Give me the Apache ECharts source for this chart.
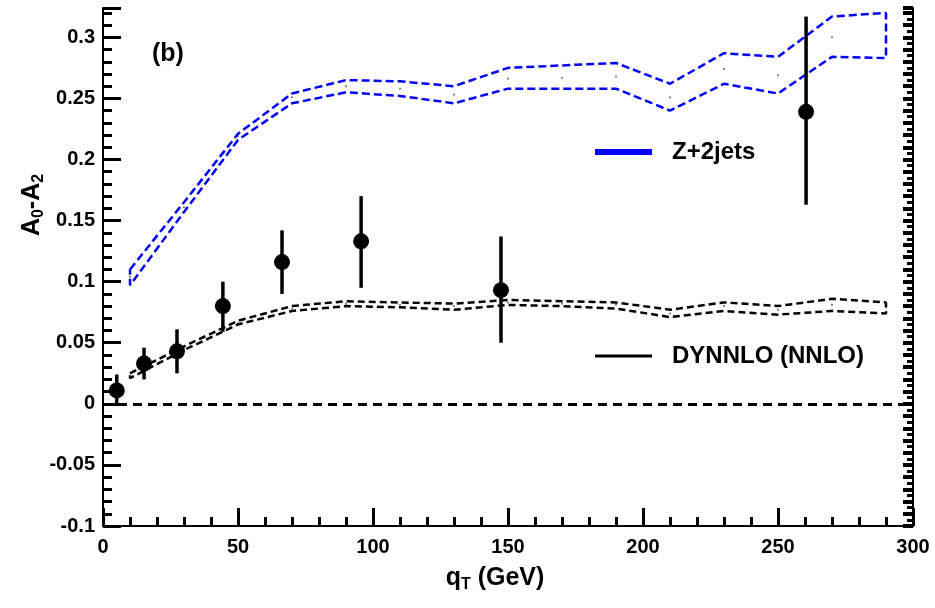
<!DOCTYPE html>
<html>
<head>
<meta charset="utf-8">
<script src="https://cdn.jsdelivr.net/npm/echarts@6/dist/echarts.min.js"></script>
<style>
  html, body { margin: 0; padding: 0; background: #fff; }
  #chart { width: 935px; height: 608px; }
</style>
</head>
<body>
<div id="chart"></div>
<script>
// theory bands, sampled in qT (GeV)
const qtBand = [10, 30, 50, 70, 90, 110, 130, 150, 170, 190, 210, 230, 250, 270, 290];
const zjUp  = [0.110, 0.165, 0.221, 0.254, 0.265, 0.264, 0.260, 0.275, 0.277, 0.279, 0.262, 0.287, 0.284, 0.317, 0.320];
const zjLo  = [0.097, 0.157, 0.216, 0.246, 0.255, 0.252, 0.246, 0.258, 0.258, 0.258, 0.240, 0.262, 0.254, 0.284, 0.283];
const zjMid = [0.104, 0.161, 0.219, 0.251, 0.260, 0.258, 0.253, 0.266, 0.267, 0.268, 0.251, 0.274, 0.269, 0.300, 0.301];
const dyUp  = [0.025, 0.047, 0.068, 0.080, 0.084, 0.083, 0.082, 0.085, 0.084, 0.083, 0.077, 0.083, 0.080, 0.086, 0.083];
const dyLo  = [0.021, 0.044, 0.065, 0.076, 0.080, 0.079, 0.077, 0.081, 0.080, 0.078, 0.071, 0.076, 0.073, 0.076, 0.074];
const dyMid = [0.023, 0.045, 0.066, 0.078, 0.082, 0.081, 0.080, 0.083, 0.082, 0.081, 0.074, 0.080, 0.077, 0.081, 0.079];

// measured points with error bars
const qtData = [5.1, 15.2, 27.4, 44.4, 66.3, 95.6, 147.4, 260.4];
const a02    = [0.011, 0.033, 0.043, 0.080, 0.116, 0.133, 0.093, 0.239];
const errLo  = [0.000, 0.020, 0.025, 0.059, 0.090, 0.095, 0.050, 0.163];
const errHi  = [0.024, 0.046, 0.061, 0.100, 0.142, 0.170, 0.137, 0.317];

const FONT = 'Liberation Sans';

// closed outline: upper edge forward, lower edge back, then close
function bandOutline(xs, up, lo) {
  const pts = xs.map((x, i) => [x, up[i]]);
  for (let i = xs.length - 1; i >= 0; i--) pts.push([xs[i], lo[i]]);
  pts.push([xs[0], up[0]]);
  return pts;
}

const chart = echarts.init(document.getElementById('chart'));

const option = {
  animation: false,
  textStyle: { fontFamily: FONT },
  grid: { left: 103, right: 22, top: 8, bottom: 82 },
  xAxis: {
    type: 'value', min: 0, max: 300, interval: 50,
    name: '{a|q}{s|T}{a| (GeV)}',
    nameLocation: 'middle', nameGap: 37,
    nameTextStyle: {
      padding: [0, 26, 0, 0],
      rich: {
        a: { fontSize: 25, fontWeight: 'bold', fontFamily: FONT, color: '#000' },
        s: { fontSize: 16, fontWeight: 'bold', fontFamily: FONT, color: '#000', padding: [14, 0, 0, 0] }
      }
    },
    axisLine: { show: true, onZero: false, lineStyle: { color: '#000', width: 2 } },
    axisTick: { inside: true, length: 18, lineStyle: { color: '#000', width: 3 } },
    minorTick: { show: true, splitNumber: 5, length: 9, lineStyle: { color: '#000', width: 3 } },
    splitLine: { show: false },
    axisLabel: { fontSize: 20, fontWeight: 'bold', color: '#000', margin: 11, fontFamily: FONT }
  },
  yAxis: [{
    type: 'value', min: -0.1, max: 0.324, interval: 0.05,
    name: '{a|A}{s|0}{a|-A}{s|2}',
    nameLocation: 'middle', nameGap: 56, nameRotate: 90,
    nameMoveOverlap: false,
    nameTextStyle: {
      padding: [0, 0, 0, 124],
      rich: {
        a: { fontSize: 25, fontWeight: 'bold', fontFamily: FONT, color: '#000' },
        s: { fontSize: 16, fontWeight: 'bold', fontFamily: FONT, color: '#000', padding: [14, 0, 0, 0] }
      }
    },
    axisLine: { show: true, onZero: false, lineStyle: { color: '#000', width: 2 } },
    axisTick: { inside: true, length: 18, lineStyle: { color: '#000', width: 3 } },
    minorTick: { show: true, splitNumber: 5, length: 9, lineStyle: { color: '#000', width: 3 } },
    splitLine: { show: false },
    axisLabel: {
      fontSize: 20, fontWeight: 'bold', color: '#000', margin: 8, fontFamily: FONT,
      showMaxLabel: false,
      formatter: v => String(Math.round(v * 100) / 100)
    }
  }, {
    type: 'value', position: 'right', min: -0.1, max: 0.324, interval: 0.01,
    axisLine: { show: true, onZero: false, lineStyle: { color: '#000', width: 2 } },
    axisTick: { inside: true, length: 10, lineStyle: { color: '#000', width: 4 } },
    minorTick: { show: true, splitNumber: 2, length: 6, lineStyle: { color: '#000', width: 3 } },
    splitLine: { show: false },
    axisLabel: { show: false }
  }],
  legend: [{
    data: ['Z+2jets'], left: 590, top: 135, icon: 'rect',
    itemWidth: 57, itemHeight: 6,
    textStyle: { fontSize: 24, fontWeight: 'bold', color: '#000', fontFamily: FONT, padding: [0, 0, 0, 15] }
  }, {
    data: ['DYNNLO (NNLO)'], left: 590, top: 339, icon: 'rect',
    itemWidth: 57, itemHeight: 3,
    textStyle: { fontSize: 24, fontWeight: 'bold', color: '#000', fontFamily: FONT, padding: [0, 0, 0, 15] }
  }],
  graphic: [{
    type: 'text', left: 152, top: 42,
    style: { text: '(b)', fontSize: 25, fontWeight: 'bold', fontFamily: FONT, fill: '#000' }
  }],
  series: [{
    name: 'Z+2jets', type: 'line', color: '#0000ff',
    data: bandOutline(qtBand, zjUp, zjLo),
    showSymbol: false, silent: true,
    lineStyle: { color: '#0000ff', width: 2.5, type: [8, 4] },
    z: 3
  }, {
    type: 'scatter', data: qtBand.map((x, i) => [x, zjMid[i]]),
    symbolSize: 2, itemStyle: { color: '#444' }, silent: true, z: 2
  }, {
    name: 'DYNNLO (NNLO)', type: 'line', color: '#000',
    data: bandOutline(qtBand, dyUp, dyLo),
    showSymbol: false, silent: true,
    lineStyle: { color: '#000', width: 2.5, type: [7, 4] },
    z: 3
  }, {
    type: 'scatter', data: qtBand.map((x, i) => [x, dyMid[i]]),
    symbolSize: 2, itemStyle: { color: '#444' }, silent: true, z: 2
  }, {
    type: 'custom',
    data: qtData.map((x, i) => [x, a02[i], errLo[i], errHi[i]]),
    encode: { x: 0, y: [1, 2, 3] },
    renderItem: function (params, api) {
      const x = api.value(0);
      const c = api.coord([x, api.value(1)]);
      const lo = api.coord([x, api.value(2)]);
      const hi = api.coord([x, api.value(3)]);
      return {
        type: 'group',
        children: [{
          type: 'line',
          shape: { x1: lo[0], y1: lo[1], x2: hi[0], y2: hi[1] },
          style: { stroke: '#000', lineWidth: 3.5 }
        }, {
          type: 'circle',
          shape: { cx: c[0], cy: c[1], r: 8 },
          style: { fill: '#000' }
        }]
      };
    },
    markLine: {
      silent: true, symbol: 'none', label: { show: false },
      lineStyle: { color: '#000', width: 3, type: [9, 6] },
      data: [{ yAxis: 0 }]
    },
    z: 4
  }]
};

chart.setOption(option);
</script>
</body>
</html>
